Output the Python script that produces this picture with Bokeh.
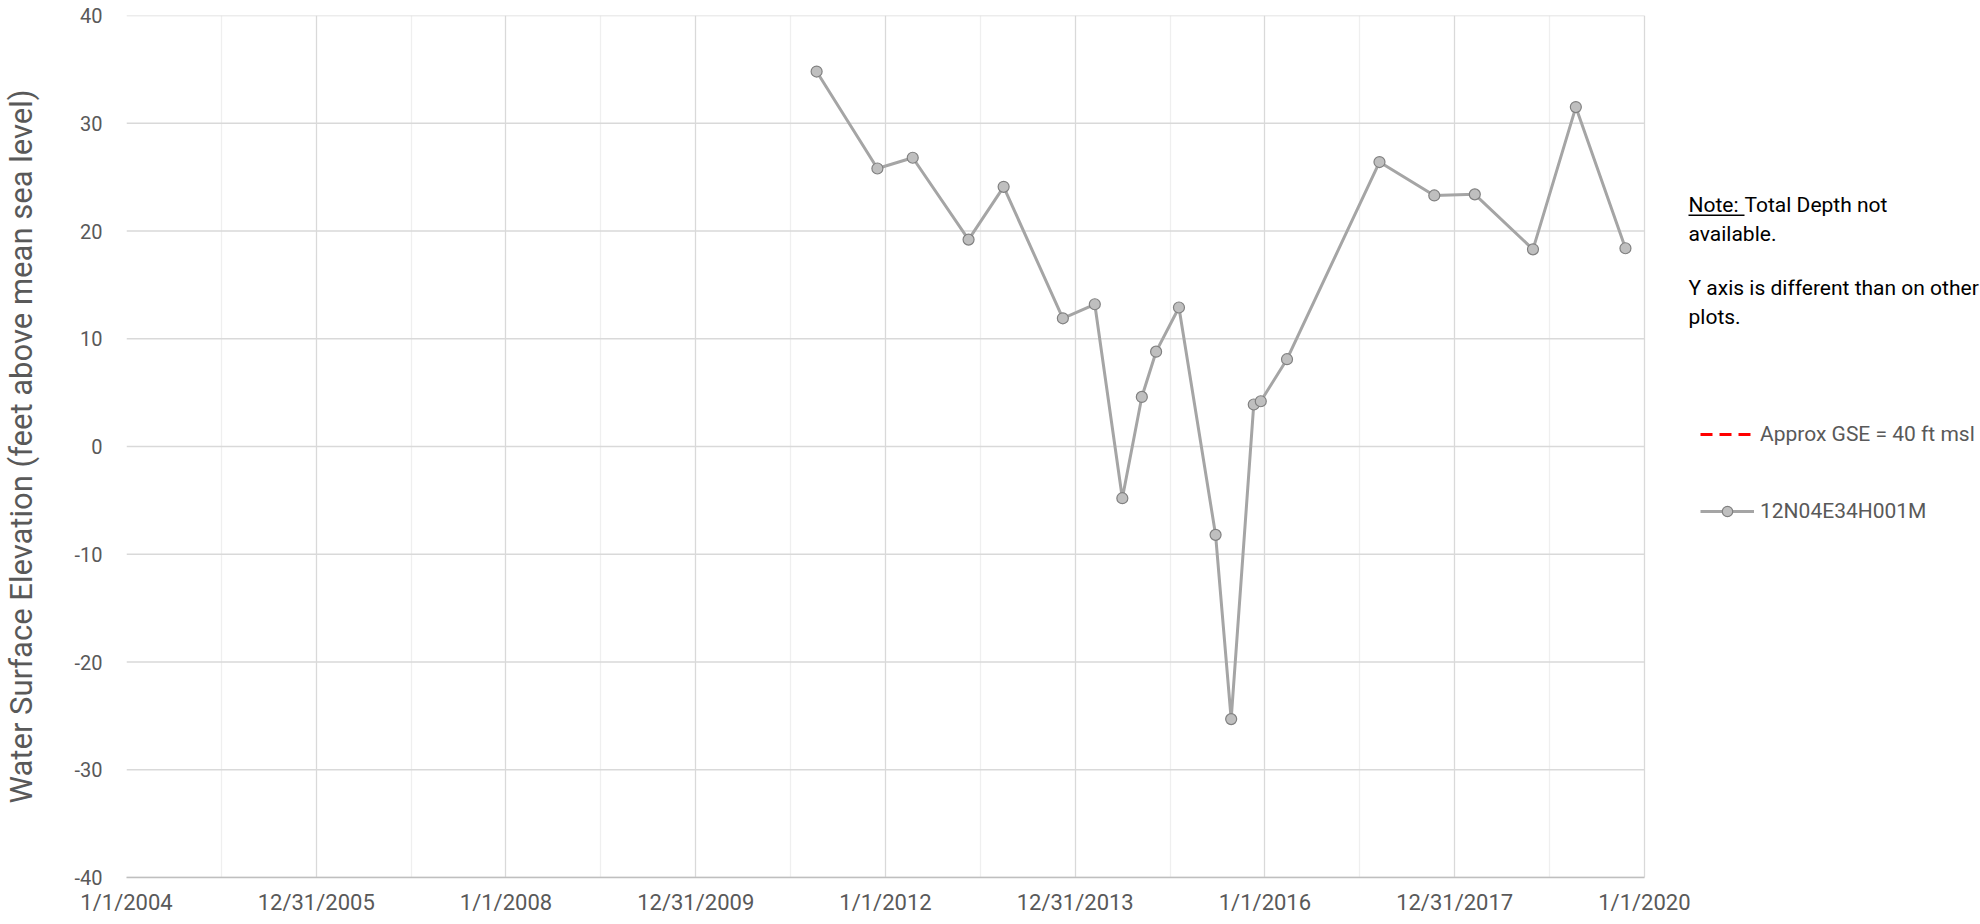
import pandas as pd
from bokeh.plotting import figure
from bokeh.models import (FixedTicker, Range1d, Legend, LegendItem, Label,
                          BoxAnnotation, ColumnDataSource)
from bokeh.embed import file_html
from bokeh.resources import INLINE

# ---------------- data ----------------
dates = ["2011-04-11", "2011-12-01", "2012-04-15", "2012-11-16", "2013-03-31",
         "2013-11-14", "2014-03-17", "2014-07-01", "2014-09-14", "2014-11-08",
         "2015-02-04", "2015-06-25", "2015-08-24", "2015-11-19", "2015-12-16",
         "2016-03-26", "2017-03-17", "2017-10-14", "2018-03-19", "2018-10-29",
         "2019-04-12", "2019-10-20"]
elevation = [34.8, 25.8, 26.8, 19.2, 24.1,
             11.9, 13.2, -4.8, 4.6, 8.8,
             12.9, -8.2, -25.3, 3.9, 4.2,
             8.1, 26.4, 23.3, 23.4, 18.3,
             31.5, 18.4]
series_name = "12N04E34H001M"
gse_name = "Approx GSE = 40 ft msl"
gse_dates = ["2004-01-01", "2020-01-01"]
gse_values = [40, 40]

x_start = "2004-01-01"
x_end = "2020-01-01"
x_tick_step_days = 730.5
x_tick_labels = ["1/1/2004", "12/31/2005", "1/1/2008", "12/31/2009", "1/1/2012",
                 "12/31/2013", "1/1/2016", "12/31/2017", "1/1/2020"]
y_ticks = [-40, -30, -20, -10, 0, 10, 20, 30, 40]
y_tick_labels = ["-40", "-30", "-20", "-10", "0", "10", "20", "30", "40"]
y_title = "Water Surface Elevation (feet above mean sea level)"
note_head = "Note:"
note_lines = ["Total Depth not", "available.", "Y axis is different than on other", "plots."]

# ---------------- layout ----------------
W, H = 1980, 924
LEFT, TOP, BOTTOM = 121, 15, 47
DATA_PX = 1522                      # pixel width of the dated part of the plot
FRAME_PX = W - LEFT                 # frame runs to the right edge (room for legend / note)
FB = H - BOTTOM                     # frame bottom in figure px

def ys(fig_y):                      # figure-px (from top) -> frame screen units (from bottom)
    return FB - fig_y

def xs(fig_x):                      # figure-px (from left) -> frame screen units
    return fig_x - LEFT

DAY_MS = 86400000
start_ms = int(pd.Timestamp(x_start).value // 1_000_000)
end_ms = int(pd.Timestamp(x_end).value // 1_000_000)
view_end = start_ms + (end_ms - start_ms) * FRAME_PX / DATA_PX
step_ms = int(x_tick_step_days * DAY_MS)
x_ticks = [start_ms + k * step_ms for k in range(len(x_tick_labels))]
x_minor = [start_ms + k * step_ms + step_ms // 2 for k in range(len(x_tick_labels) - 1)]

src = ColumnDataSource(dict(x=pd.to_datetime(dates), y=elevation))
gse_src = ColumnDataSource(dict(x=pd.to_datetime(gse_dates), y=gse_values))
hgrid_src = ColumnDataSource(dict(x0=[start_ms] * len(y_ticks), x1=[end_ms] * len(y_ticks),
                                  y=y_ticks))

FONT = "Roboto"
GRAY_TXT = "#595959"
GRID = "#D9D9D9"

p = figure(width=W, height=H, x_axis_type="datetime",
           x_range=Range1d(start_ms, view_end), y_range=Range1d(-40, 40),
           output_backend="svg", toolbar_location=None,
           min_border_left=LEFT, min_border_right=0,
           min_border_top=TOP, min_border_bottom=BOTTOM)
p.outline_line_color = None
p.background_fill_color = "white"

# axes
for ax in (p.xaxis, p.yaxis):
    ax.major_tick_out = 0
    ax.major_tick_in = 0
    ax.minor_tick_out = 0
    ax.minor_tick_in = 0
    ax.major_tick_line_color = None
    ax.minor_tick_line_color = None
    ax.major_label_text_font = FONT
    ax.major_label_text_color = GRAY_TXT

p.xaxis.ticker = FixedTicker(ticks=x_ticks, minor_ticks=x_minor)
p.xaxis.major_label_overrides = {t: l for t, l in zip(x_ticks, x_tick_labels)}
p.xaxis.bounds = (start_ms, end_ms)
p.xaxis.axis_line_color = "#BFBFBF"
p.xaxis.axis_line_width = 1.5
p.xaxis.major_label_text_font_size = "22px"
p.xaxis.major_label_standoff = 12

p.yaxis.ticker = FixedTicker(ticks=y_ticks)
p.yaxis.major_label_overrides = {t: l for t, l in zip(y_ticks, y_tick_labels)}
p.yaxis.axis_line_color = None
p.yaxis.major_label_text_font_size = "20px"
p.yaxis.major_label_standoff = 24
p.yaxis.axis_label = y_title
p.yaxis.axis_label_text_font = FONT
p.yaxis.axis_label_text_font_size = "31px"
p.yaxis.axis_label_text_font_style = "normal"
p.yaxis.axis_label_text_color = GRAY_TXT
p.yaxis.axis_label_standoff = 31

# grids
p.xgrid.grid_line_color = GRID
p.xgrid.grid_line_width = 1.3
p.xgrid.minor_grid_line_color = "#EFEFEF"
p.xgrid.minor_grid_line_width = 1.3
p.ygrid.grid_line_color = None
p.segment(x0="x0", y0="y", x1="x1", y1="y", source=hgrid_src,
          line_color=GRID, line_width=1.3)

# series
gse = p.line("x", "y", source=gse_src, line_color="#FF0000",
             line_dash="12 7", line_width=3)
gse.visible = False                 # not visible in the plot area, only in the legend
ln = p.line("x", "y", source=src, line_color="#A5A5A5", line_width=3)
pts = p.scatter("x", "y", source=src, size=11, fill_color="#BFBFBF",
                line_color="#808080", line_width=1.2)

# legend (rows centred at y 434 and 511)
legend = Legend(items=[LegendItem(label=gse_name, renderers=[gse]),
                       LegendItem(label=series_name, renderers=[ln, pts])],
                location=(xs(1695), ys(524)), orientation="vertical",
                glyph_width=54, glyph_height=26, label_height=26,
                label_standoff=6, spacing=51, padding=0, margin=0,
                border_line_color=None, background_fill_alpha=0,
                label_text_font=FONT, label_text_font_size="21px",
                label_text_color=GRAY_TXT)
p.add_layout(legend)

# note text
def note(x, y, text):
    p.add_layout(Label(x=xs(x), y=ys(y), x_units="screen", y_units="screen", text=text,
                       text_font=FONT, text_font_size="21px", text_color="black",
                       text_baseline="middle", text_align="left"))

note(1683, 204, note_head)
note(1739, 204, note_lines[0])
note(1683, 233, note_lines[1])
note(1683, 287, note_lines[2])
note(1683, 316, note_lines[3])
p.add_layout(BoxAnnotation(left=xs(1683), right=xs(1739), bottom=ys(215.5), top=ys(214),
                           left_units="screen", right_units="screen",
                           bottom_units="screen", top_units="screen",
                           fill_color="black", fill_alpha=1, line_color=None))

open("out.html", "w").write(file_html(p, INLINE))
